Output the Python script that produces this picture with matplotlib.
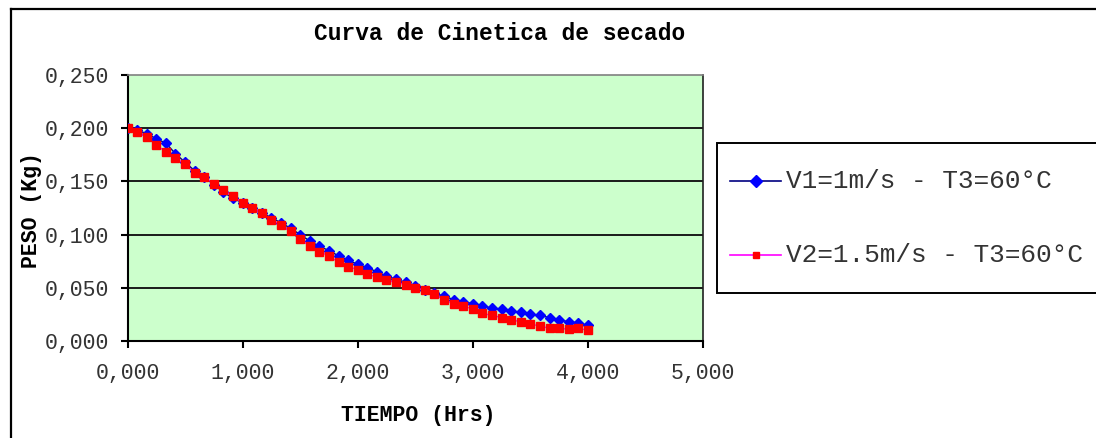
import matplotlib
matplotlib.use("Agg")
import matplotlib.pyplot as plt
from matplotlib.lines import Line2D
from matplotlib.patches import Rectangle
import numpy as np

# drying time (hours), 5 minute readings
tiempo = [i / 12 for i in range(49)]

# weight (kg) for V1 = 1 m/s, T3 = 60 C
peso_v1 = [0.200, 0.198, 0.195, 0.190, 0.186, 0.176, 0.168, 0.160, 0.154, 0.147,
           0.140, 0.134, 0.130, 0.125, 0.120, 0.116, 0.111, 0.106, 0.100, 0.094,
           0.089, 0.085, 0.080, 0.076, 0.072, 0.069, 0.065, 0.061, 0.058, 0.055,
           0.052, 0.048, 0.045, 0.042, 0.039, 0.037, 0.035, 0.033, 0.031, 0.030,
           0.028, 0.027, 0.025, 0.024, 0.022, 0.020, 0.018, 0.017, 0.015]

# weight (kg) for V2 = 1.5 m/s, T3 = 60 C
peso_v2 = [0.200, 0.196, 0.192, 0.184, 0.178, 0.172, 0.166, 0.158, 0.154, 0.148,
           0.142, 0.136, 0.130, 0.125, 0.120, 0.114, 0.109, 0.103, 0.096, 0.089,
           0.084, 0.080, 0.074, 0.070, 0.067, 0.063, 0.060, 0.057, 0.055, 0.053,
           0.050, 0.048, 0.044, 0.039, 0.035, 0.033, 0.030, 0.026, 0.024, 0.022,
           0.020, 0.018, 0.016, 0.014, 0.012, 0.012, 0.011, 0.012, 0.010]

labels = ["V1=1m/s - T3=60°C", "V2=1.5m/s - T3=60°C"]
x_ticks = [0, 1, 2, 3, 4, 5]
y_ticks = [0.0, 0.05, 0.10, 0.15, 0.20, 0.25]

FONT = "Liberation Mono"
W, H = 1096, 438


def coma(v):
    return "{0:.3f}".format(v).replace(".", ",")


fig = plt.figure(figsize=(W / 100, H / 100), dpi=100)
fig.patch.set_facecolor("white")

ax = fig.add_axes([127.5 / W, 1 - 341 / H, 575.5 / W, 266 / H])
ax.set_facecolor("#CCFFCC")

ax.plot(tiempo, peso_v1, color="#000080", lw=1.0, marker="D", ms=5.4,
        mfc="#0000FF", mec="#0000FF", zorder=3)
ax.plot(tiempo, peso_v2, color="#FF00FF", lw=1.0, marker="s", ms=5.6,
        mfc="#FF0000", mec="#FF0000", zorder=4)

ax.set_xlim(0, 5)
ax.set_ylim(0, 0.25)
ax.set_xticks(x_ticks)
ax.set_yticks(y_ticks)
ax.set_xticklabels([coma(v) for v in x_ticks], family=FONT, fontsize=15.5)
ax.set_yticklabels([coma(v) for v in y_ticks], family=FONT, fontsize=15.5)
ax.tick_params(axis="x", direction="out", length=5, width=1.5, pad=11, colors="black")
ax.tick_params(axis="y", direction="out", length=5, width=1.5, pad=8, colors="black")
for lab in ax.get_xticklabels() + ax.get_yticklabels():
    lab.set_color("#333333")

for v in y_ticks[1:-1]:
    ax.axhline(v, color="#1a1a1a", lw=1.4, zorder=1)

for s in ("left", "bottom"):
    ax.spines[s].set_color("black")
    ax.spines[s].set_linewidth(1.5)
ax.spines["top"].set_color("#808080")
ax.spines["top"].set_linewidth(1.2)
ax.spines["right"].set_color("#202020")
ax.spines["right"].set_linewidth(1.2)

# chart title and axis titles
fig.text(500 / W, 1 - 33 / H, "Curva de Cinetica de secado", family=FONT,
         fontsize=16.5, weight="bold", ha="center", va="center")
fig.text(32 / W, 1 - 210 / H, "PESO (Kg)", family=FONT, fontsize=15.5,
         weight="bold", rotation=90, ha="center", va="center")
fig.text(418 / W, 1 - 416 / H, "TIEMPO (Hrs)", family=FONT, fontsize=15.5,
         weight="bold", ha="center", va="center")

# outer chart border
fig.add_artist(Line2D([11 / W, 11 / W], [0, 1 - 9 / H], transform=fig.transFigure,
                      color="black", lw=1.6))
fig.add_artist(Line2D([11 / W, 1], [1 - 9 / H, 1 - 9 / H], transform=fig.transFigure,
                      color="black", lw=1.6))

# legend box
fig.add_artist(Rectangle((717 / W, 1 - 293 / H), 420 / W, 150 / H,
                         transform=fig.transFigure, facecolor="white",
                         edgecolor="black", lw=1.4))
rows = [(181, "#000080", "D", "#0000FF", 6.0), (255, "#FF00FF", "s", "#FF0000", 5.0)]
for (yy, lc, mk, mc, ms), txt in zip(rows, labels):
    yf = 1 - yy / H
    fig.add_artist(Line2D([730 / W, 781 / W], [yf, yf], transform=fig.transFigure,
                          color=lc, lw=1.2))
    fig.add_artist(Line2D([755.5 / W], [yf], transform=fig.transFigure, marker=mk,
                          ms=ms, mfc=mc, mec=mc, lw=0))
    fig.text(786 / W, yf, txt, family=FONT, fontsize=18.8, color="#333333",
             ha="left", va="center")

fig.savefig("out.png", dpi=100)
